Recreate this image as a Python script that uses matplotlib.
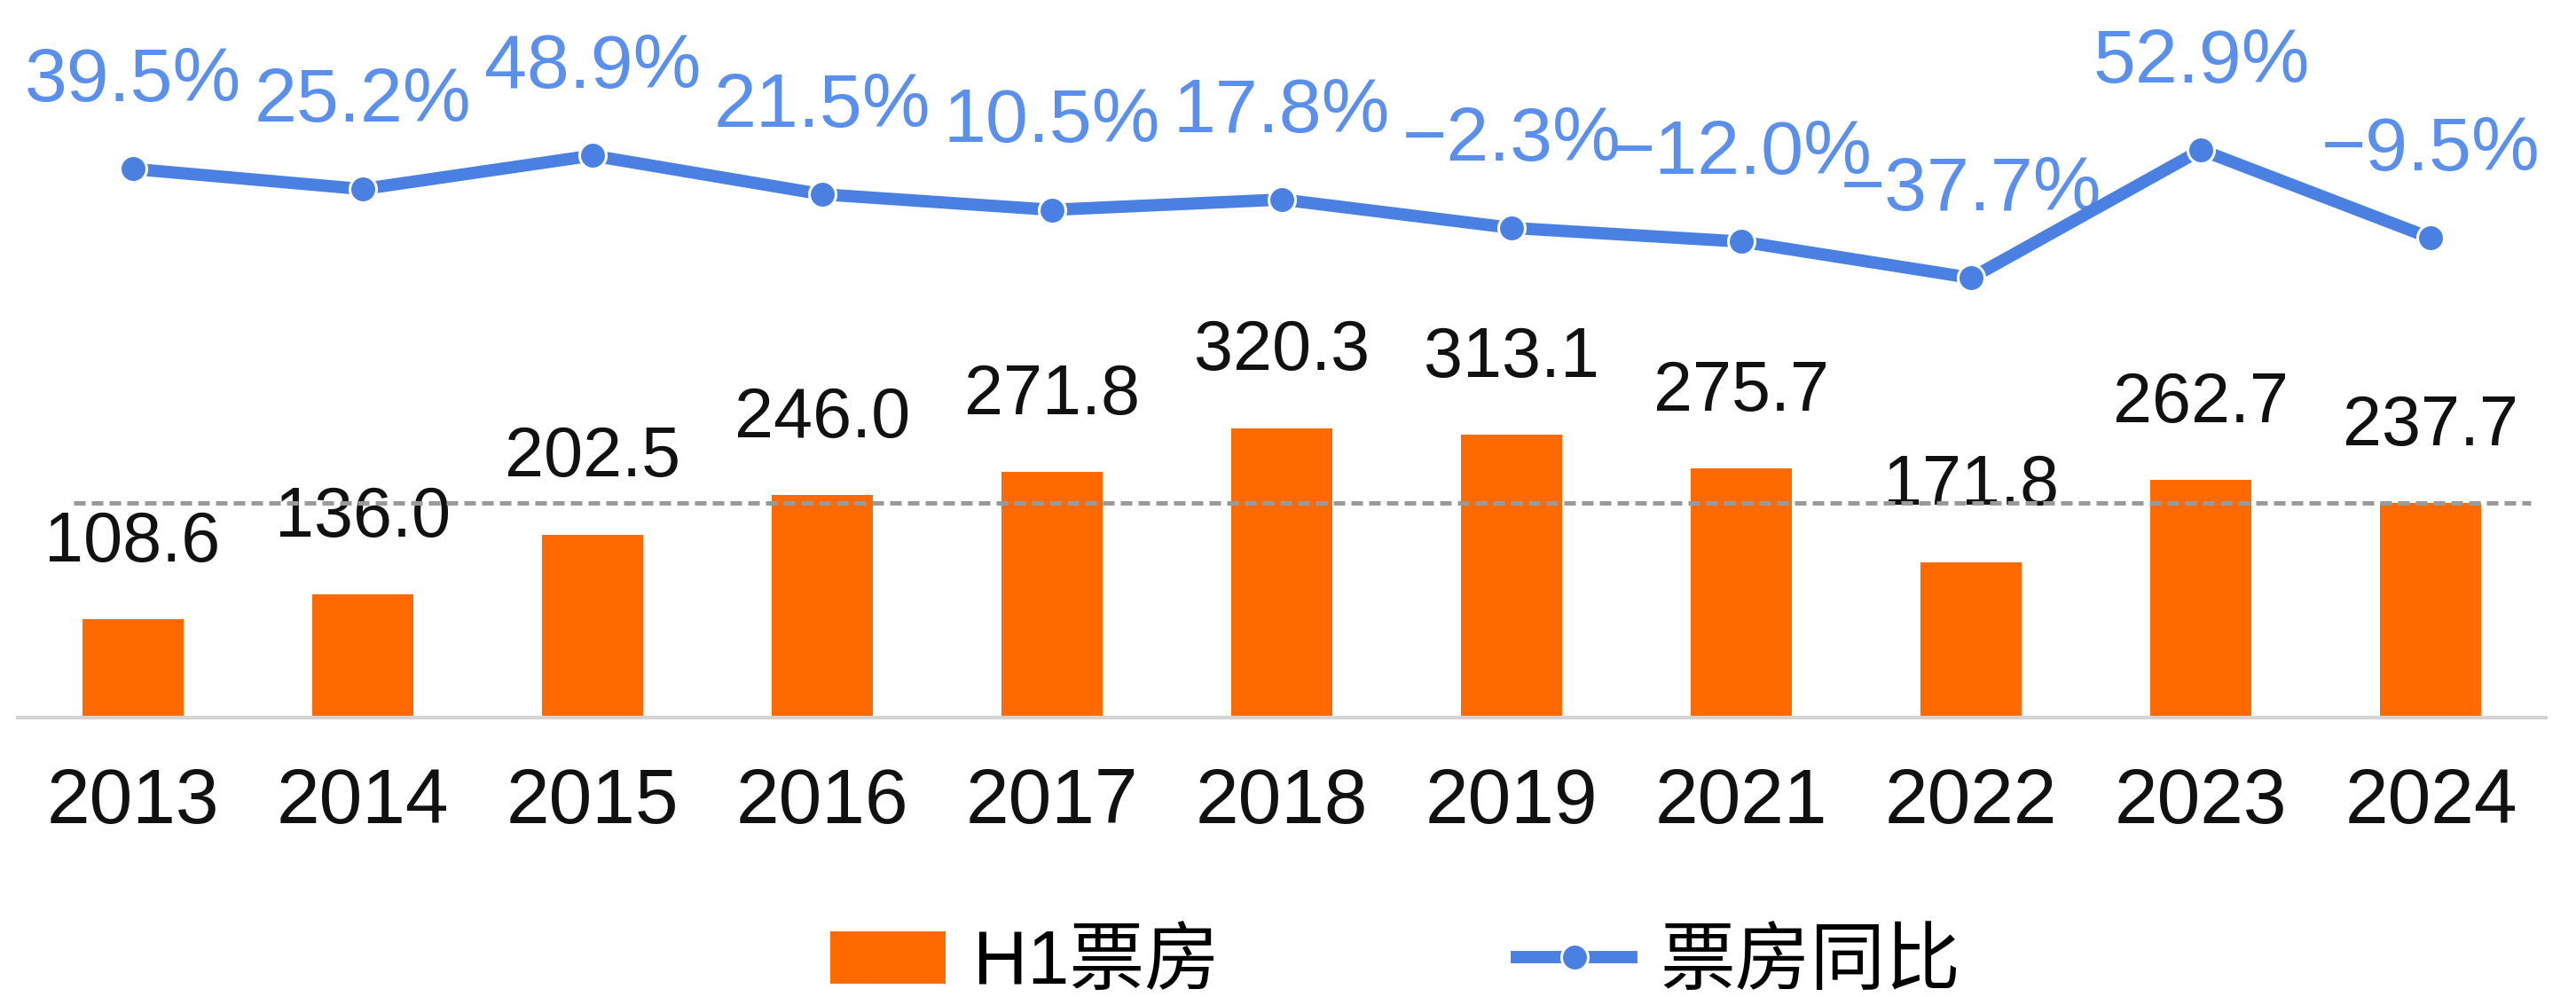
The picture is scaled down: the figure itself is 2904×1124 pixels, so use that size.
import matplotlib
matplotlib.use("Agg")
import matplotlib.pyplot as plt

plt.rcParams['font.family'] = ['Liberation Sans', 'Noto Sans CJK SC', 'DejaVu Sans']

years = ['2013', '2014', '2015', '2016', '2017', '2018', '2019', '2021', '2022', '2023', '2024']
h1_box = [108.6, 136.0, 202.5, 246.0, 271.8, 320.3, 313.1, 275.7, 171.8, 262.7, 237.7]
yoy = [39.5, 25.2, 48.9, 21.5, 10.5, 17.8, -2.3, -12.0, -37.7, 52.9, -9.5]

bar_color = '#FF6A00'
line_color = '#4A80E2'
label_blue = '#5A8FEC'

W, H = 2904, 1124
fig = plt.figure(figsize=(W / 100, H / 100), dpi=100)

# axes box: x from 20px to 2870px, y from baseline (809px) to top
left, right = 20 / W, 2870 / W
bottom = (H - 809) / H
ax = fig.add_axes([left, bottom, right - left, 1 - bottom])
x = list(range(len(years)))

ax.bar(x, h1_box, width=0.44, color=bar_color, zorder=2, label='H1票房')
ax.set_xlim(-0.5, len(years) - 0.5)
ax.set_ylim(0, 794)

for xi, v in zip(x, h1_box):
    ax.annotate(f'{v:.1f}', (xi, v), xytext=(0, 47), textcoords='offset points',
                ha='center', va='baseline', fontsize=57, color='#111111')

# reference line at the latest value
ax.axhline(h1_box[-1], xmin=0.022, xmax=0.994, color='#9A9A9A', lw=3.6,
           linestyle=(0, (2.6, 1.4)), zorder=3)

for s in ['top', 'right', 'left']:
    ax.spines[s].set_visible(False)
ax.spines['bottom'].set_color('#D3D3D3')
ax.spines['bottom'].set_linewidth(3)
ax.set_yticks([])
ax.set_xticks(x)
ax.set_xticklabels(years, fontsize=63, color='#111111')
ax.tick_params(axis='x', length=0, pad=40)

ax2 = ax.twinx()
ax2.set_ylim(-349.1, 159.1)
ax2.plot(x, yoy, color=line_color, lw=10, marker='o', markersize=21.6,
         markeredgecolor='white', markeredgewidth=2.2, zorder=4, label='票房同比')
for xi, v in zip(x, yoy):
    txt = f'{v:.1f}%'.replace('-', '\u2212')
    ax2.annotate(txt, (xi, v), xytext=(0, 55), textcoords='offset points',
                 ha='center', va='baseline', fontsize=62, color=label_blue)
ax2.axis('off')

h1, l1 = ax.get_legend_handles_labels()
h2, l2 = ax2.get_legend_handles_labels()
fig.legend(h1 + h2, l1 + l2, loc='center', bbox_to_anchor=(0.5417, 0.033),
           ncol=2, frameon=False, fontsize=61, handlelength=1.53, handleheight=0.69,
           handletextpad=0.37, columnspacing=3.95, borderpad=0, borderaxespad=0)

fig.savefig('out.png', dpi=100)
